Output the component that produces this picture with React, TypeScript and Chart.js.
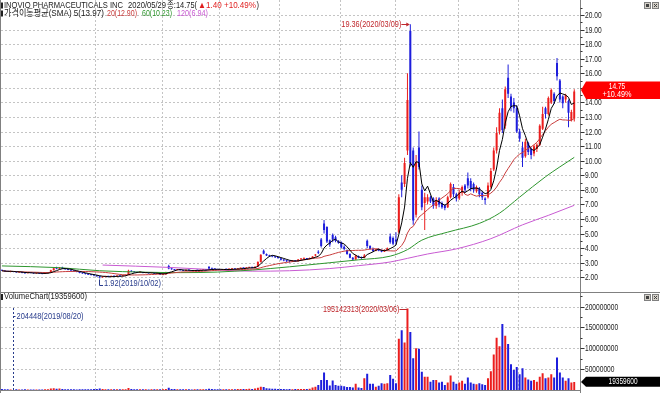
import React, { useEffect, useRef } from "react";
import { Chart, registerables } from "chart.js";

Chart.register(...registerables);

// ---------------- categories (trading days) ----------------
const tradingDays: [string, number[]][] = [
  ["2019/08", [14, 15, 16, 19, 20, 21, 22, 23, 26, 27, 28, 29, 30]],
  ["2019/09", [3, 4, 5, 6, 9, 10, 11, 12, 13, 16, 17, 18, 19, 20, 23, 24, 25, 26, 27, 30]],
  ["2019/10", [1, 2, 3, 4, 7, 8, 9, 10, 11, 14, 15, 16, 17, 18, 21, 22, 23, 24, 25, 28, 29, 30, 31]],
  ["2019/11", [1, 4, 5, 6, 7, 8, 11, 12, 13, 14, 15, 18, 19, 20, 21, 22, 25, 26, 27, 29]],
  ["2019/12", [2, 3, 4, 5, 6, 9, 10, 11, 12, 13, 16, 17, 18, 19, 20, 23, 24, 26, 27, 30, 31]],
  ["2020/01", [2, 3, 6, 7, 8, 9, 10, 13, 14, 15, 16, 17, 21, 22, 23, 24, 27, 28, 29, 30, 31]],
  ["2020/02", [3, 4, 5, 6, 7, 10, 11, 12, 13, 14, 18, 19, 20, 21, 24, 25, 26, 27, 28]],
  ["2020/03", [2, 3, 4, 5, 6, 9, 10, 11, 12, 13, 16, 17, 18, 19, 20, 23, 24, 25, 26, 27, 30, 31]],
  ["2020/04", [1, 2, 3, 6, 7, 8, 9, 13, 14, 15, 16, 17, 20, 21, 22, 23, 24, 27, 28, 29, 30]],
  ["2020/05", [1, 4, 5, 6, 7, 8, 11, 12, 13, 14, 15, 18, 19, 20, 21, 22, 26, 27, 28, 29]],
];
const dates: string[] = tradingDays.flatMap(([m, days]) =>
  days.map((d) => `${m}/${String(d).padStart(2, "0")}`)
);

// ---------------- daily OHLC ----------------
const opens = [
  2.50, 2.46, 2.41, 2.37, 2.42, 2.37, 2.33, 2.37, 2.31, 2.28, 2.33, 2.31, 2.26,
  2.29, 2.25, 2.24, 2.28, 2.33, 2.48, 2.66, 2.58, 2.68, 2.60, 2.55, 2.50, 2.46, 2.40, 2.36, 2.30, 2.26, 2.22, 2.18, 2.15,
  2.12, 2.08, 2.00, 2.03, 2.07, 2.04, 2.08, 2.05, 2.10, 2.07, 2.12, 2.16, 2.45, 2.38, 2.35, 2.32, 2.34, 2.30, 2.32, 2.28, 2.31, 2.24, 2.27,
  2.18, 2.20, 2.78, 2.60, 2.55, 2.50, 2.53, 2.48, 2.45, 2.50, 2.47, 2.44, 2.48, 2.46, 2.50, 2.52, 2.72, 2.60, 2.58, 2.55,
  2.52, 2.50, 2.55, 2.53, 2.56, 2.58, 2.55, 2.60, 2.64, 2.62, 2.66, 2.68, 2.65, 2.74, 3.05, 3.82, 3.60, 3.52, 3.45, 3.42, 3.38,
  3.30, 3.20, 3.15, 3.10, 3.08, 3.14, 3.10, 3.22, 3.28, 3.30, 3.25, 3.33, 3.50, 3.75, 4.60, 5.70, 5.45, 4.55, 4.90, 4.75, 4.50,
  4.40, 4.10, 3.87, 3.60, 3.35, 3.22, 3.45, 3.38, 3.32, 4.50, 4.15, 3.95, 3.80, 3.92, 3.85, 3.76, 3.88, 4.80, 4.70,
  4.60, 5.10, 8.50, 8.40, 10.70, 18.90, 10.70, 6.30, 10.90, 8.00, 7.10, 7.20, 7.50, 7.40, 6.90, 7.40, 7.10, 6.95, 6.80, 7.50, 8.20, 7.70,
  7.40, 7.80, 8.30, 8.80, 8.60, 8.40, 7.90, 8.10, 7.80, 7.40, 7.50, 8.20, 9.40, 10.70, 12.00, 13.60, 12.40, 15.70, 14.40, 14.00, 13.60,
  12.00, 10.90, 10.30, 11.20, 10.80, 10.50, 10.80, 11.10, 12.20, 13.60, 13.20, 14.00, 14.60, 16.70, 15.50, 14.40, 14.20, 14.10, 12.80, 12.90,
];
const highs = [
  2.52, 2.48, 2.44, 2.45, 2.43, 2.39, 2.39, 2.38, 2.33, 2.35, 2.34, 2.32, 2.31,
  2.30, 2.27, 2.30, 2.35, 2.52, 2.66, 2.72, 2.70, 2.72, 2.62, 2.57, 2.52, 2.48, 2.42, 2.38, 2.33, 2.28, 2.24, 2.20, 2.17,
  2.14, 2.10, 2.06, 2.08, 2.08, 2.10, 2.09, 2.12, 2.11, 2.14, 2.18, 2.52, 2.48, 2.40, 2.37, 2.36, 2.35, 2.34, 2.33, 2.33, 2.32, 2.29, 2.28,
  2.22, 2.38, 2.86, 2.62, 2.57, 2.55, 2.54, 2.50, 2.52, 2.51, 2.48, 2.50, 2.49, 2.52, 2.54, 2.53, 2.76, 2.62, 2.59, 2.56,
  2.55, 2.57, 2.56, 2.58, 2.60, 2.59, 2.62, 2.66, 2.65, 2.68, 2.70, 2.69, 2.75, 3.10, 3.58, 3.90, 3.64, 3.55, 3.48, 3.44, 3.40,
  3.35, 3.25, 3.20, 3.15, 3.18, 3.18, 3.25, 3.32, 3.35, 3.32, 3.36, 3.45, 3.60, 3.85, 4.70, 5.93, 5.50, 4.60, 5.00, 4.85, 4.55,
  4.45, 4.20, 3.90, 3.65, 3.40, 3.55, 3.50, 3.42, 3.60, 4.60, 4.20, 4.05, 3.95, 3.98, 3.90, 3.92, 4.05, 5.00, 4.80,
  5.10, 7.70, 9.00, 10.20, 16.00, 19.36, 10.90, 10.40, 12.00, 8.30, 7.80, 7.70, 7.60, 7.50, 7.50, 7.50, 7.20, 7.00, 7.60, 8.50, 8.40, 7.80,
  8.00, 8.30, 8.40, 9.20, 8.80, 8.50, 8.30, 8.20, 7.90, 7.50, 8.50, 9.50, 10.90, 12.30, 13.60, 14.20, 15.10, 16.60, 14.60, 14.30, 13.80,
  12.20, 11.30, 11.50, 11.30, 10.90, 11.10, 11.20, 12.50, 13.70, 13.70, 14.40, 14.95, 14.70, 17.05, 15.60, 14.50, 14.60, 14.20, 13.50, 14.90,
];
const lows = [
  2.43, 2.38, 2.36, 2.35, 2.34, 2.32, 2.31, 2.28, 2.25, 2.27, 2.27, 2.24, 2.25,
  2.22, 2.21, 2.23, 2.27, 2.32, 2.46, 2.55, 2.56, 2.57, 2.52, 2.48, 2.44, 2.38, 2.34, 2.28, 2.24, 2.20, 2.16, 2.12, 2.08,
  2.04, 1.92, 1.97, 2.00, 2.01, 2.02, 2.03, 2.04, 2.05, 2.06, 2.09, 2.15, 2.36, 2.33, 2.30, 2.29, 2.28, 2.28, 2.26, 2.27, 2.22, 2.22, 2.16,
  2.14, 2.19, 2.55, 2.52, 2.47, 2.48, 2.46, 2.43, 2.44, 2.45, 2.42, 2.43, 2.44, 2.45, 2.48, 2.46, 2.56, 2.55, 2.52, 2.49,
  2.48, 2.49, 2.50, 2.52, 2.54, 2.53, 2.54, 2.59, 2.59, 2.61, 2.64, 2.62, 2.64, 2.72, 3.02, 3.58, 3.46, 3.40, 3.38, 3.33, 3.28,
  3.15, 3.10, 3.05, 3.02, 3.05, 3.06, 3.08, 3.20, 3.22, 3.20, 3.22, 3.30, 3.42, 3.60, 4.05, 5.00, 4.35, 4.10, 4.40, 4.40, 4.30,
  4.00, 3.85, 3.55, 3.30, 3.15, 3.20, 3.30, 3.28, 3.30, 4.00, 3.90, 3.75, 3.78, 3.78, 3.72, 3.74, 3.85, 4.30, 4.20,
  4.25, 5.00, 7.50, 8.20, 10.40, 9.60, 5.60, 6.10, 9.40, 6.60, 5.24, 7.00, 7.10, 6.70, 6.70, 6.80, 6.70, 6.60, 6.75, 7.40, 7.50, 7.20,
  7.30, 7.60, 7.80, 8.10, 7.90, 7.80, 7.80, 7.50, 7.30, 7.00, 7.40, 8.10, 9.30, 10.50, 11.80, 11.90, 12.20, 14.30, 13.40, 13.30, 11.90,
  11.30, 9.57, 10.20, 10.40, 10.10, 10.30, 10.60, 11.00, 12.10, 12.90, 13.10, 13.90, 13.90, 15.50, 14.00, 13.60, 14.00, 12.30, 12.70, 12.70,
];
const closes = [
  2.45, 2.40, 2.38, 2.42, 2.36, 2.34, 2.37, 2.30, 2.28, 2.32, 2.30, 2.27, 2.29,
  2.25, 2.24, 2.28, 2.33, 2.48, 2.62, 2.58, 2.66, 2.60, 2.55, 2.50, 2.46, 2.40, 2.36, 2.30, 2.26, 2.22, 2.18, 2.15, 2.12,
  2.08, 2.00, 2.03, 2.06, 2.04, 2.08, 2.05, 2.10, 2.07, 2.12, 2.15, 2.45, 2.38, 2.35, 2.32, 2.34, 2.30, 2.32, 2.28, 2.31, 2.24, 2.27, 2.18,
  2.20, 2.35, 2.60, 2.55, 2.50, 2.53, 2.48, 2.45, 2.50, 2.47, 2.44, 2.48, 2.46, 2.50, 2.52, 2.48, 2.60, 2.58, 2.55, 2.52,
  2.50, 2.55, 2.53, 2.56, 2.58, 2.55, 2.60, 2.64, 2.62, 2.66, 2.68, 2.65, 2.72, 3.05, 3.55, 3.62, 3.50, 3.45, 3.42, 3.38, 3.32,
  3.20, 3.15, 3.10, 3.08, 3.14, 3.10, 3.22, 3.28, 3.30, 3.25, 3.33, 3.42, 3.55, 3.68, 4.15, 5.25, 4.45, 4.25, 4.60, 4.50, 4.35,
  4.05, 3.95, 3.60, 3.35, 3.22, 3.48, 3.35, 3.32, 3.50, 4.15, 3.95, 3.80, 3.90, 3.82, 3.76, 3.88, 4.00, 4.40, 4.30,
  4.45, 7.50, 8.00, 9.84, 14.17, 9.84, 5.90, 9.90, 9.57, 6.80, 7.50, 7.50, 7.20, 6.90, 7.30, 7.00, 6.80, 6.75, 7.50, 8.40, 7.70, 7.40,
  7.80, 8.20, 8.00, 8.30, 8.10, 8.00, 8.20, 7.70, 7.50, 7.30, 8.30, 9.30, 10.70, 11.90, 13.30, 12.10, 14.90, 14.60, 13.70, 13.60, 12.00,
  11.50, 10.20, 11.30, 10.60, 10.40, 11.00, 11.10, 12.40, 13.20, 13.20, 14.30, 14.85, 14.10, 15.80, 14.20, 13.95, 14.50, 13.30, 13.35, 14.75,
];
// daily volume, in millions of shares
const volumeMillions = [
  2.1, 1.8, 1.5, 1.2, 0.204448, 1.5, 1.3, 1.2, 1.6, 1.4, 1.1, 1.3, 1.2,
  1.4, 1.2, 1.5, 1.8, 3.5, 4.2, 2.8, 3.6, 2.2, 1.9, 1.6, 1.5, 1.8, 1.4, 1.6, 1.7, 1.9, 2.0, 1.8, 2.2,
  2.5, 3.8, 2.2, 1.9, 1.7, 1.6, 1.5, 1.8, 1.6, 1.7, 1.9, 4.5, 2.6, 1.9, 1.7, 1.6, 1.5, 1.7, 1.4, 1.6, 1.5, 1.8, 1.7,
  2.0, 2.4, 5.2, 2.6, 2.1, 1.8, 1.7, 1.5, 1.9, 1.6, 1.4, 1.5, 1.7, 1.8, 1.6, 1.9, 3.0, 2.2, 1.8, 1.6,
  1.8, 1.7, 1.6, 1.9, 2.0, 1.8, 2.2, 2.4, 2.1, 2.6, 2.8, 2.3, 3.5, 5.5, 8.0, 7.0, 4.0, 3.4, 3.0, 2.8, 2.5,
  2.4, 2.2, 2.0, 2.1, 1.9, 2.3, 2.6, 2.5, 2.2, 2.4, 2.8, 6.0, 8.0, 12.0, 24.0, 42.0, 24.0, 11.0, 23.0, 12.0, 10.0,
  10.0, 9.0, 7.0, 7.0, 6.0, 15.0, 6.0, 5.0, 28.0, 39.0, 15.0, 15.0, 8.0, 10.0, 16.0, 15.0, 16.0, 36.0, 27.0,
  16.0, 123.0, 143.0, 114.0, 195.142313, 139.0, 76.0, 100.0, 99.0, 44.0, 32.0, 32.0, 20.0, 24.0, 24.0, 18.0, 20.0, 12.0, 18.0, 35.0, 20.0, 15.0,
  18, 22, 15, 30, 18, 15, 14, 16, 14, 12, 28, 45, 85, 125, 105, 158, 130, 110, 62, 48, 55,
  38, 52, 30, 25, 22, 24, 20, 32, 40, 28, 30, 38, 30, 78, 42, 30, 22, 28, 18, 19.3596,
];

// long moving averages (their history starts before the window)
const ma60Marks: [string, number][] = [
  ["2019/08/14", 2.78], ["2019/09/12", 2.66], ["2019/10/02", 2.45], ["2019/10/24", 2.35],
  ["2019/11/11", 2.32], ["2019/11/29", 2.36], ["2019/12/17", 2.5], ["2020/01/07", 2.72],
  ["2020/01/28", 3.0], ["2020/02/11", 3.2], ["2020/02/27", 3.45], ["2020/03/06", 3.9],
  ["2020/03/13", 4.55], ["2020/03/26", 5.1], ["2020/04/13", 5.7], ["2020/04/22", 6.4],
  ["2020/05/01", 7.5], ["2020/05/14", 8.9], ["2020/05/29", 10.23],
];
const ma120Marks: [string, number][] = [
  ["2019/10/03", 2.84], ["2019/11/05", 2.68], ["2019/11/22", 2.55], ["2019/12/17", 2.42],
  ["2020/01/07", 2.45], ["2020/01/28", 2.6], ["2020/02/11", 2.8], ["2020/02/27", 3.05],
  ["2020/03/06", 3.3], ["2020/03/17", 3.6], ["2020/03/31", 3.95], ["2020/04/17", 4.65],
  ["2020/05/04", 5.6], ["2020/05/15", 6.25], ["2020/05/29", 6.94],
];

const priceTicks = [2, 3, 4, 5, 6, 7, 8, 9, 10, 11, 12, 13, 14, 15, 16, 17, 18, 19, 20];
const volumeTicks = [50000000, 100000000, 150000000, 200000000];
const gridMonths = ["2019/10", "2019/11", "2019/12", "2020/01", "2020/02", "2020/03", "2020/04", "2020/05"];
const symbolName = "INOVIO PHARMACEUTICALS INC";

// ---------------- styles ----------------
const UP = "#eb1e1e";
const DOWN = "#1e1edc";
const MA5C = "#000000";
const MA20C = "#c83c3c";
const MA60C = "#2e962e";
const MA120C = "#c85ad2";
const GRID = "#c4c4c4";
const FRAME = "#808080";
const DARK = "#1a1a1a";
const NAVY = "#283c8c";
const ANN_RED = "#c0282d";
const FONT = "'Liberation Sans', 'Noto Sans CJK KR', 'DejaVu Sans', sans-serif";
const AXIS_X = 580.5;

function sma(vals: number[], n: number) {
  return vals.map((_, i) => {
    const w = vals.slice(Math.max(0, i - n + 1), i + 1);
    return w.reduce((a, b) => a + b, 0) / w.length;
  });
}
function fromMarks(marks: [string, number][]) {
  const arr: (number | null)[] = dates.map(() => null);
  for (const [d, v] of marks) {
    const i = dates.indexOf(d);
    if (i >= 0) arr[i] = v;
  }
  return arr;
}

function drawText(
  ctx: CanvasRenderingContext2D,
  s: string,
  x: number,
  y: number,
  color: string,
  opts: { w?: number; sx?: number; size?: number; align?: string } = {}
) {
  const size = opts.size ?? 9;
  ctx.save();
  ctx.font = `${size}px ${FONT}`;
  ctx.fillStyle = color;
  ctx.textBaseline = "middle";
  ctx.textAlign = "left";
  const m = ctx.measureText(s).width || 1;
  const sx = opts.w ? opts.w / m : opts.sx ?? 0.8;
  const tw = m * sx;
  const left = opts.align === "right" ? x - tw : opts.align === "center" ? x - tw / 2 : x;
  ctx.translate(left, y);
  ctx.scale(sx, 1);
  ctx.fillText(s, 0, 0);
  ctx.restore();
  return tw;
}
function seg(ctx: CanvasRenderingContext2D, x1: number, y1: number, x2: number, y2: number, color: string, dash: number[] = []) {
  ctx.save();
  ctx.strokeStyle = color;
  ctx.lineWidth = 1;
  ctx.setLineDash(dash);
  ctx.beginPath();
  ctx.moveTo(x1, y1);
  ctx.lineTo(x2, y2);
  ctx.stroke();
  ctx.restore();
}
function winButtons(ctx: CanvasRenderingContext2D, y: number) {
  ctx.save();
  ctx.fillStyle = "#d4d0c8";
  ctx.fillRect(644, y, 7, 7);
  ctx.fillRect(652, y, 7, 7);
  ctx.strokeStyle = "#808080";
  ctx.strokeRect(644.5, y + 0.5, 6, 6);
  ctx.strokeRect(652.5, y + 0.5, 6, 6);
  ctx.fillStyle = "#404040";
  ctx.fillRect(646, y + 2, 3, 3);
  ctx.restore();
  seg(ctx, 654, y + 2, 657, y + 5, "#404040");
  seg(ctx, 657, y + 2, 654, y + 5, "#404040");
}

const htsPlugin = {
  id: "htsOverlay",
  beforeDatasetsDraw(chart: any) {
    const { ctx, scales } = chart;
    const xS = scales.x, yP = scales.yP, yV = scales.yV;
    const half = (xS.getPixelForValue(1) - xS.getPixelForValue(0)) / 2;
    for (const p of priceTicks) {
      const y = Math.round(yP.getPixelForValue(p)) + 0.5;
      seg(ctx, 1, y, AXIS_X, y, GRID, [2, 2]);
    }
    for (const v of volumeTicks) {
      const y = Math.round(yV.getPixelForValue(v / 1e6)) + 0.5;
      seg(ctx, 1, y, AXIS_X, y, GRID, [2, 2]);
    }
    for (const m of gridMonths) {
      const i = dates.findIndex((d) => d.startsWith(m));
      const x = Math.round(xS.getPixelForValue(i) - half) + 0.5;
      seg(ctx, x, 0, x, 390, GRID, [2, 2]);
    }
  },
  afterDraw(chart: any) {
    const { ctx, scales } = chart;
    const xS = scales.x, yP = scales.yP, yV = scales.yV;
    const last = dates.length - 1;

    // frame
    seg(ctx, 0.5, 0, 0.5, 393, FRAME);
    seg(ctx, AXIS_X, 0, AXIS_X, 393, FRAME);
    seg(ctx, 0, 292.5, 660, 292.5, FRAME);
    seg(ctx, 0, 390.5, AXIS_X, 390.5, FRAME);

    // price axis
    for (const p of priceTicks) {
      const y = Math.round(yP.getPixelForValue(p)) + 0.5;
      seg(ctx, AXIS_X, y, AXIS_X + 4, y, "#333");
      const ym = Math.round(yP.getPixelForValue(p + 0.5)) + 0.5;
      seg(ctx, AXIS_X, ym, AXIS_X + 2, ym, "#333");
      drawText(ctx, p.toFixed(2), 585, y, "#222", { sx: 0.78, size: 8.5 });
    }
    // volume axis
    for (const v of volumeTicks) {
      const y = Math.round(yV.getPixelForValue(v / 1e6)) + 0.5;
      seg(ctx, AXIS_X, y, AXIS_X + 4, y, "#333");
      const ym = Math.round(yV.getPixelForValue((v + 25000000) / 1e6)) + 0.5;
      seg(ctx, AXIS_X, ym, AXIS_X + 2, ym, "#333");
      drawText(ctx, String(v), 585, y, "#222", { sx: 0.78, size: 8.5 });
    }

    // current price tag
    const c = closes[last];
    const prev = closes[last - 1];
    const diff = c - prev;
    const pct = (diff / prev) * 100;
    const yT = yP.getPixelForValue(c);
    ctx.save();
    ctx.fillStyle = "#ff0000";
    ctx.beginPath();
    ctx.moveTo(581, yT - 1.5);
    ctx.lineTo(586, yT - 10);
    ctx.lineTo(660, yT - 10);
    ctx.lineTo(660, yT + 7.5);
    ctx.lineTo(586, yT + 7.5);
    ctx.closePath();
    ctx.fill();
    ctx.restore();
    drawText(ctx, c.toFixed(2), 617, yT - 5.2, "#fff", { w: 16.5, size: 8.5, align: "center" });
    drawText(ctx, `+${pct.toFixed(2)}%`, 617, yT + 3.2, "#fff", { w: 29, size: 8.5, align: "center" });

    // current volume tag
    const vLast = Math.round(volumeMillions[last] * 1e6);
    const yTV = yV.getPixelForValue(volumeMillions[last]);
    ctx.save();
    ctx.fillStyle = "#000";
    ctx.beginPath();
    ctx.moveTo(581, yTV);
    ctx.lineTo(586, yTV - 5.2);
    ctx.lineTo(660, yTV - 5.2);
    ctx.lineTo(660, yTV + 4.8);
    ctx.lineTo(586, yTV + 4.8);
    ctx.closePath();
    ctx.fill();
    ctx.restore();
    drawText(ctx, String(vLast), 623, yTV, "#fff", { w: 29, size: 8.5, align: "center" });

    // window buttons
    winButtons(ctx, 2);
    winButtons(ctx, 294);

    // header line 1
    ctx.fillStyle = "#202020";
    ctx.fillRect(1, 2.5, 2, 6);
    drawText(ctx, symbolName, 4, 5.5, DARK, { w: 119 });
    drawText(ctx, dates[last], 128, 5.5, DARK, { w: 38 });
    drawText(ctx, `종:${c.toFixed(2)}(`, 167, 5.5, DARK, { w: 30 });
    drawText(ctx, `▲${diff.toFixed(2)} +${pct.toFixed(2)}%`, 198, 5.5, "#e01e1e", { w: 58 });
    drawText(ctx, ")", 256.5, 5.5, DARK, { w: 2.5 });

    // header line 2: moving average legend
    const ma5 = sma(closes, 5)[last];
    const ma20 = sma(closes, 20)[last];
    const ma60 = ma60Marks[ma60Marks.length - 1][1];
    const ma120 = ma120Marks[ma120Marks.length - 1][1];
    ctx.fillStyle = "#202020";
    ctx.fillRect(1, 10.5, 2, 6);
    drawText(ctx, `가격이동평균(SMA) 5(${ma5.toFixed(2)})`, 4, 13.5, DARK, { w: 100 });
    drawText(ctx, `20(${ma20.toFixed(2)})`, 107, 13.5, MA20C, { w: 30 });
    drawText(ctx, `60(${ma60.toFixed(2)})`, 142, 13.5, MA60C, { w: 30 });
    drawText(ctx, `120(${ma120.toFixed(2)})`, 177, 13.5, MA120C, { w: 31 });

    // volume header
    ctx.fillStyle = "#202020";
    ctx.fillRect(1, 294, 2, 6);
    drawText(ctx, `VolumeChart(${vLast})`, 4, 297, DARK, { w: 83 });

    // highest high annotation
    let iH = 0, iL = 0, iV = 0, iVm = 0;
    highs.forEach((h, i) => { if (h > highs[iH]) iH = i; });
    lows.forEach((l, i) => { if (l < lows[iL]) iL = i; });
    volumeMillions.forEach((v, i) => {
      if (v > volumeMillions[iV]) iV = i;
      if (v < volumeMillions[iVm]) iVm = i;
    });
    {
      const px = xS.getPixelForValue(iH);
      const py = Math.round(yP.getPixelForValue(highs[iH])) + 0.5;
      drawText(ctx, `${highs[iH].toFixed(2)}(${dates[iH]})`, px - 9, py, ANN_RED, { w: 60, align: "right" });
      seg(ctx, px - 9, py, px - 3, py, ANN_RED);
      ctx.save();
      ctx.fillStyle = ANN_RED;
      ctx.beginPath();
      ctx.moveTo(px - 4, py - 2);
      ctx.lineTo(px - 0.5, py);
      ctx.lineTo(px - 4, py + 2);
      ctx.closePath();
      ctx.fill();
      ctx.restore();
    }
    // lowest low annotation
    {
      const px = Math.round(xS.getPixelForValue(iL)) - 0.5;
      const py = yP.getPixelForValue(lows[iL]);
      seg(ctx, px, py + 1, px, py + 7, NAVY);
      seg(ctx, px, Math.round(py + 7) + 0.5, px + 3.5, Math.round(py + 7) + 0.5, NAVY);
      drawText(ctx, `${lows[iL].toFixed(2)}(${dates[iL]})`, px + 4.5, py + 5.5, NAVY, { w: 57 });
    }
    // max volume annotation
    {
      const px = xS.getPixelForValue(iV);
      const py = Math.round(yV.getPixelForValue(volumeMillions[iV])) + 0.5;
      drawText(ctx, `${Math.round(volumeMillions[iV] * 1e6)}(${dates[iV]})`, px - 8, py, ANN_RED, { w: 76.5, align: "right" });
      seg(ctx, px - 8, py, px, py, ANN_RED);
    }
    // min volume annotation
    {
      const px = Math.round(xS.getPixelForValue(iVm)) + 0.5;
      seg(ctx, px, 308, px, 390, NAVY, [2, 2]);
      seg(ctx, px, 316.5, px + 2, 316.5, NAVY);
      drawText(ctx, `${Math.round(volumeMillions[iVm] * 1e6)}(${dates[iVm]})`, px + 3, 316.5, NAVY, { w: 67 });
    }
  },
};

export default function App() {
  const ref = useRef<HTMLCanvasElement>(null);
  useEffect(() => {
    document.body.style.margin = "0";
    const canvas = ref.current;
    if (!canvas) return;
    const colors = closes.map((c, i) => (c >= opens[i] ? UP : DOWN));
    const chart = new Chart(canvas, {
      type: "bar",
      data: {
        labels: dates,
        datasets: [
          { type: "line", label: "MA5", data: sma(closes, 5), borderColor: MA5C, borderWidth: 1, pointRadius: 0, yAxisID: "yP", order: 0 },
          { type: "line", label: "MA20", data: sma(closes, 20), borderColor: MA20C, borderWidth: 1, pointRadius: 0, yAxisID: "yP", order: 0 },
          { type: "line", label: "MA60", data: fromMarks(ma60Marks), borderColor: MA60C, borderWidth: 1, pointRadius: 0, spanGaps: true, cubicInterpolationMode: "monotone", yAxisID: "yP", order: 0 },
          { type: "line", label: "MA120", data: fromMarks(ma120Marks), borderColor: MA120C, borderWidth: 1, pointRadius: 0, spanGaps: true, cubicInterpolationMode: "monotone", yAxisID: "yP", order: 0 },
          { type: "bar", label: "body", data: opens.map((o, i) => [o, closes[i]]), backgroundColor: colors, barThickness: 2, minBarLength: 1, grouped: false, inflateAmount: 0, yAxisID: "yP", order: 1 },
          { type: "bar", label: "wick", data: lows.map((l, i) => [l, highs[i]]), backgroundColor: colors, barThickness: 1, grouped: false, inflateAmount: 0, yAxisID: "yP", order: 2 },
          { type: "bar", label: "volume", data: volumeMillions, backgroundColor: colors, barThickness: 2, grouped: false, inflateAmount: 0, yAxisID: "yV", order: 3 },
        ] as any,
      },
      options: {
        responsive: false,
        animation: false,
        devicePixelRatio: 1,
        events: [],
        layout: { padding: { left: 0.5, right: 84.3, top: 1, bottom: 3 } },
        plugins: { legend: { display: false }, tooltip: { enabled: false } },
        scales: {
          x: { type: "category", display: false, offset: true },
          yP: { type: "linear", display: false, min: -5.734, max: 20.961 },
          yV: { type: "linear", display: false, min: 0, max: 932.1 },
        },
      } as any,
      plugins: [htsPlugin],
    });
    return () => chart.destroy();
  }, []);
  return (
    <div style={{ width: 660, height: 393, background: "#fff" }}>
      <canvas ref={ref} width={660} height={393} style={{ display: "block", width: 660, height: 393 }} />
    </div>
  );
}
